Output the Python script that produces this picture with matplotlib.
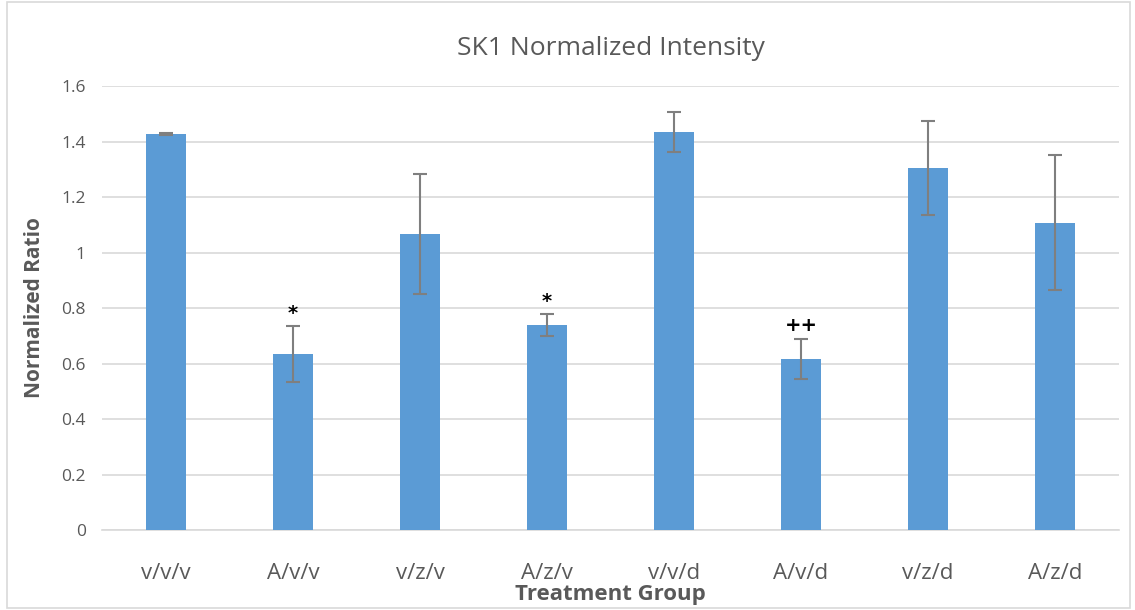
import numpy as np
import matplotlib.pyplot as plt
from matplotlib.patches import Rectangle

# data
groups = ['v/v/v', 'A/v/v', 'v/z/v', 'A/z/v', 'v/v/d', 'A/v/d', 'v/z/d', 'A/z/d']
ratios = [1.427, 0.634, 1.067, 0.739, 1.434, 0.618, 1.305, 1.108]
errors = [0.002, 0.100, 0.215, 0.040, 0.072, 0.072, 0.170, 0.244]
marks = ['', '*', '', '*', '', '++', '', '']

plt.rcParams['font.family'] = ['Open Sans', 'DejaVu Sans']
grey = '#595959'

fig = plt.figure(figsize=(11.35, 6.1), dpi=100)
ax = fig.add_axes([0.0903, 0.1311, 0.8952, 0.7279])

x = np.arange(len(groups))
ax.bar(x, ratios, width=0.31, color='#5B9BD5', zorder=3,
       yerr=errors, error_kw=dict(ecolor='#7F7F7F', elinewidth=1.5, capsize=5, capthick=1.5))

for i in range(len(groups)):
    if marks[i]:
        top = ratios[i] + errors[i]
        ax.text(x[i], top + 0.012, marks[i], ha='center', va='bottom',
                fontsize=14, fontweight='bold', color='black', family='DejaVu Sans')

ax.set_xlim(-0.5, len(groups) - 0.5)
ax.set_ylim(0, 1.6)
ax.set_yticks(np.arange(0, 1.61, 0.2))
ax.set_yticklabels(['0', '0.2', '0.4', '0.6', '0.8', '1', '1.2', '1.4', '1.6'])
ax.set_xticks(x)
ax.set_xticklabels(groups)
ax.tick_params(axis='x', length=0, labelsize=16, colors=grey, pad=24)
ax.tick_params(axis='y', length=0, labelsize=12.5, colors=grey, pad=12)
ax.yaxis.grid(True, color='#D9D9D9', linewidth=1.2, zorder=0)
for s in ['top', 'right', 'left']:
    ax.spines[s].set_visible(False)
ax.spines['bottom'].set_color('#D9D9D9')
ax.spines['bottom'].set_linewidth(1.2)

ax.set_title('SK1 Normalized Intensity', fontsize=19, color=grey, pad=22)
ax.set_ylabel('Normalized Ratio', fontsize=15, fontweight='bold', color=grey, labelpad=12)
ax.set_xlabel('Treatment Group', fontsize=16, fontweight='bold', color=grey, labelpad=0)

fig.patches.append(Rectangle((0.006, 0.003), 0.99, 0.994, transform=fig.transFigure,
                             fill=False, edgecolor='#D9D9D9', linewidth=1.2))

fig.savefig('out.png', dpi=100)
